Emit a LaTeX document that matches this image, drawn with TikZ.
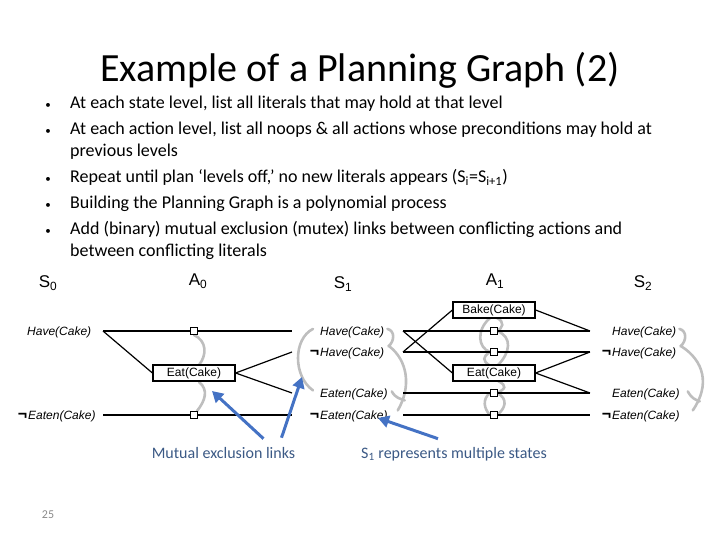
\documentclass[tikz,border=0pt]{standalone}
\usepackage{fontspec}
\setmainfont{Carlito}
\newfontfamily\arialfont{Liberation Sans}
\usetikzlibrary{arrows.meta, calc}
\definecolor{cGray}{RGB}{190,190,190}
\definecolor{cBlue}{RGB}{68,114,196}
\definecolor{cNote}{RGB}{59,89,133}
\definecolor{cPage}{RGB}{137,137,137}
\newcommand{\negsym}{\llap{{\fontsize{16}{16}\selectfont\bfseries\upshape ¬}\kern1pt}}
\tikzset{
	title/.style ={font=\fontsize{40}{44}\selectfont, anchor=base, inner sep=0pt},
	item/.style  ={font=\fontsize{18}{22}\selectfont, anchor=base west, inner sep=0pt},
	bul/.style   ={font=\fontsize{11}{22}\selectfont, anchor=base, inner sep=0pt},
	% planning graph styles
	lvl/.style   ={font=\arialfont\fontsize{17}{19}\selectfont, inner sep=0pt},
	lit/.style   ={font=\arialfont\fontsize{12}{14}\selectfont\itshape, anchor=base west, inner sep=0pt},
	act/.style   ={rectangle, draw=black, line width=1.2pt, fill=white, minimum width=82pt, minimum height=16pt, inner sep=0pt, font=\arialfont\fontsize{12}{14}\selectfont},
	noop/.style  ={rectangle, draw=black, line width=1.1pt, fill=white, minimum size=7pt, inner sep=0pt},
	wire/.style  ={line width=1.2pt},
	mutex/.style ={line width=2.6pt, cGray, line cap=round},
	% call-outs
	note/.style  ={font=\fontsize{16}{18}\selectfont, text=cNote, anchor=base, inner sep=0pt},
	pointer/.style={-{Triangle[length=11pt,width=12pt]}, line width=3pt, cBlue},
}
\begin{document}
\begin{tikzpicture}[x=1pt, y=-1pt]
	\useasboundingbox (0,0) rectangle (720,540);
	% title and bullets
	\node[title] (title) at (360,82) {Example of a Planning Graph (2)};
	\node[bul] (b1) at (48,109) {•};
	\node[item] (t1) at (70,109) {At each state level, list all literals that may hold at that level};
	\node[bul] (b2) at (48,135) {•};
	\node[item] (t2) at (70,135) {At each action level, list all noops \& all actions whose preconditions may hold at};
	\node[item] (t2b) at (70,157) {previous levels};
	\node[bul] (b3) at (48,183) {•};
	\node[item] (t3) at (70,183) {Repeat until plan ‘levels off,’ no new literals appears (S\textsubscript{i}=S\textsubscript{i+1})};
	\node[bul] (b4) at (48,209) {•};
	\node[item] (t4) at (70,209) {Building the Planning Graph is a polynomial process};
	\node[bul] (b5) at (48,235) {•};
	\node[item] (t5) at (70,235) {Add (binary) mutual exclusion (mutex) links between conflicting actions and};
	\node[item] (t5b) at (70,256) {between conflicting literals};
	% levels
	\node[lvl] (S0) at (48,283) {S\textsubscript{0}};
	\node[lvl] (A0) at (198,281) {A\textsubscript{0}};
	\node[lvl] (S1) at (343,284) {S\textsubscript{1}};
	\node[lvl] (A1) at (495,281) {A\textsubscript{1}};
	\node[lvl] (S2) at (643,283) {S\textsubscript{2}};
	% literals
	\node[lit] (s0h) at (27,335) {Have(Cake)};
	\node[lit] (s0ne) at (28,419.5) {\negsym Eaten(Cake)};
	\node[lit] (s1h) at (320,335) {Have(Cake)};
	\node[lit] (s1nh) at (320,356.5) {\negsym Have(Cake)};
	\node[lit] (s1e) at (320,397.5) {Eaten(Cake)};
	\node[lit] (s1ne) at (320,419.5) {\negsym Eaten(Cake)};
	\node[lit] (s2h) at (612,335) {Have(Cake)};
	\node[lit] (s2nh) at (612,356.5) {\negsym Have(Cake)};
	\node[lit] (s2e) at (612,397.5) {Eaten(Cake)};
	\node[lit] (s2ne) at (612,419.5) {\negsym Eaten(Cake)};
	% line ends beside the literals
	\coordinate (p0h) at (103,331);
	\coordinate (p0ne) at (103,415);
	\coordinate (q1h) at (292,331);
	\coordinate (q1nh) at (292,352);
	\coordinate (q1e) at (292,393);
	\coordinate (q1ne) at (292,415);
	\coordinate (p1h) at (403,331);
	\coordinate (p1nh) at (403,352);
	\coordinate (p1e) at (403,393);
	\coordinate (p1ne) at (403,415);
	\coordinate (q2h) at (590,331);
	\coordinate (q2nh) at (590,352);
	\coordinate (q2e) at (590,393);
	\coordinate (q2ne) at (590,415);
	% mutex links
	\draw[mutex] (194,335) .. controls +(13,6) and +(8,-10) .. (199,365);
	\draw[mutex] (199,382) .. controls +(10,8) and +(8,-10) .. (197,411);
	\draw[mutex] ($(s1h.west)+(-7,-3)$) .. controls +(-20,10) and +(-20,-14) .. ($(s1e.west)+(-7,-4)$);
	\draw[mutex] ($(s1h.east)+(3,-3)$) .. controls +(8,2) and +(6,-5) .. ($(s1nh.east)+(4,-7)$);
	\draw[mutex] ($(s1nh.east)+(5,-7)$) .. controls +(18,14) and +(14,-24) .. ($(s1ne.east)+(10,-6)$);
	\draw[mutex] ($(s1e.east)+(4,-3)$) .. controls +(4,7) and +(-5,-2) .. ($(s1e.east)+(17,6)$);
	\draw[mutex] ($(s2h.east)+(3,-3)$) .. controls +(8,2) and +(6,-5) .. ($(s2nh.east)+(4,-7)$);
	\draw[mutex] ($(s2nh.east)+(5,-7)$) .. controls +(22,14) and +(18,-26) .. ($(s2ne.east)+(13,-6)$);
	\draw[mutex] ($(s2e.east)+(8,-3)$) .. controls +(4,7) and +(-5,-2) .. ($(s2e.east)+(20,7)$);
	\draw[mutex] (490,318) .. controls +(-14,12) and +(-12,-4) .. (490,352);
	\draw[mutex] (497,318) .. controls +(8,4) and +(6,-3) .. (497,331);
	\draw[mutex] (497,331) .. controls +(16,6) and +(12,-12) .. (498,365);
	\draw[mutex] (490,352) .. controls +(-8,5) and +(-6,-4) .. (489,365);
	\draw[mutex] (498,381) .. controls +(10,5) and +(8,-4) .. (497,393);
	\draw[mutex] (490,393) .. controls +(-8,6) and +(-6,-6) .. (490,415);
	\draw[mutex] (497,393) .. controls +(12,6) and +(8,-6) .. (497,415);
	% actions and noops
	\node[act] (a0eat) at (194,373) {Eat(Cake)};
	\node[act] (a1bake) at (494,310) {Bake(Cake)};
	\node[act] (a1eat) at (494,373) {Eat(Cake)};
	\draw[wire] (p0h) -- (q1h);
	\draw[wire] (p0ne) -- (q1ne);
	\draw[wire] (p1h) -- (q2h);
	\draw[wire] (p1nh) -- (q2nh);
	\draw[wire] (p1e) -- (q2e);
	\draw[wire] (p1ne) -- (q2ne);
	\node[noop] (m0a) at (194,331) {};
	\node[noop] (m0d) at (194,415) {};
	\node[noop] (m1a) at (494,331) {};
	\node[noop] (m1b) at (494,352) {};
	\node[noop] (m1c) at (494,393) {};
	\node[noop] (m1d) at (494,415) {};
	\draw[wire] (p0h) -- (a0eat.west);
	\draw[wire] (a0eat.east) -- (q1nh);
	\draw[wire] (a0eat.east) -- (q1e);
	\draw[wire] (p1h) -- (a1eat.west);
	\draw[wire] (p1nh) -- (a1bake.west);
	\draw[wire] (a1bake.east) -- (q2h);
	\draw[wire] (a1eat.east) -- (q2nh);
	\draw[wire] (a1eat.east) -- (q2e);
	% call-outs
	\node[note] (note1) at (223.5,458) {Mutual exclusion links};
	\node[note] (note2) at (454,458) {S\textsubscript{1} represents multiple states};
	\coordinate (tip1) at (212,391);
	\coordinate (tip2) at (302,377);
	\coordinate (tip3) at (378,418);
	\draw[pointer] ($(note1.north)+(40,-8)$) -- (tip1);
	\draw[pointer] ($(note1.north)+(58,-9)$) -- (tip2);
	\draw[pointer] ($(note2.north)+(-16,-8)$) -- (tip3);
	\node[font=\fontsize{12}{14}\selectfont, text=cPage] (page) at (48,515) {25};
\end{tikzpicture}
\end{document}
